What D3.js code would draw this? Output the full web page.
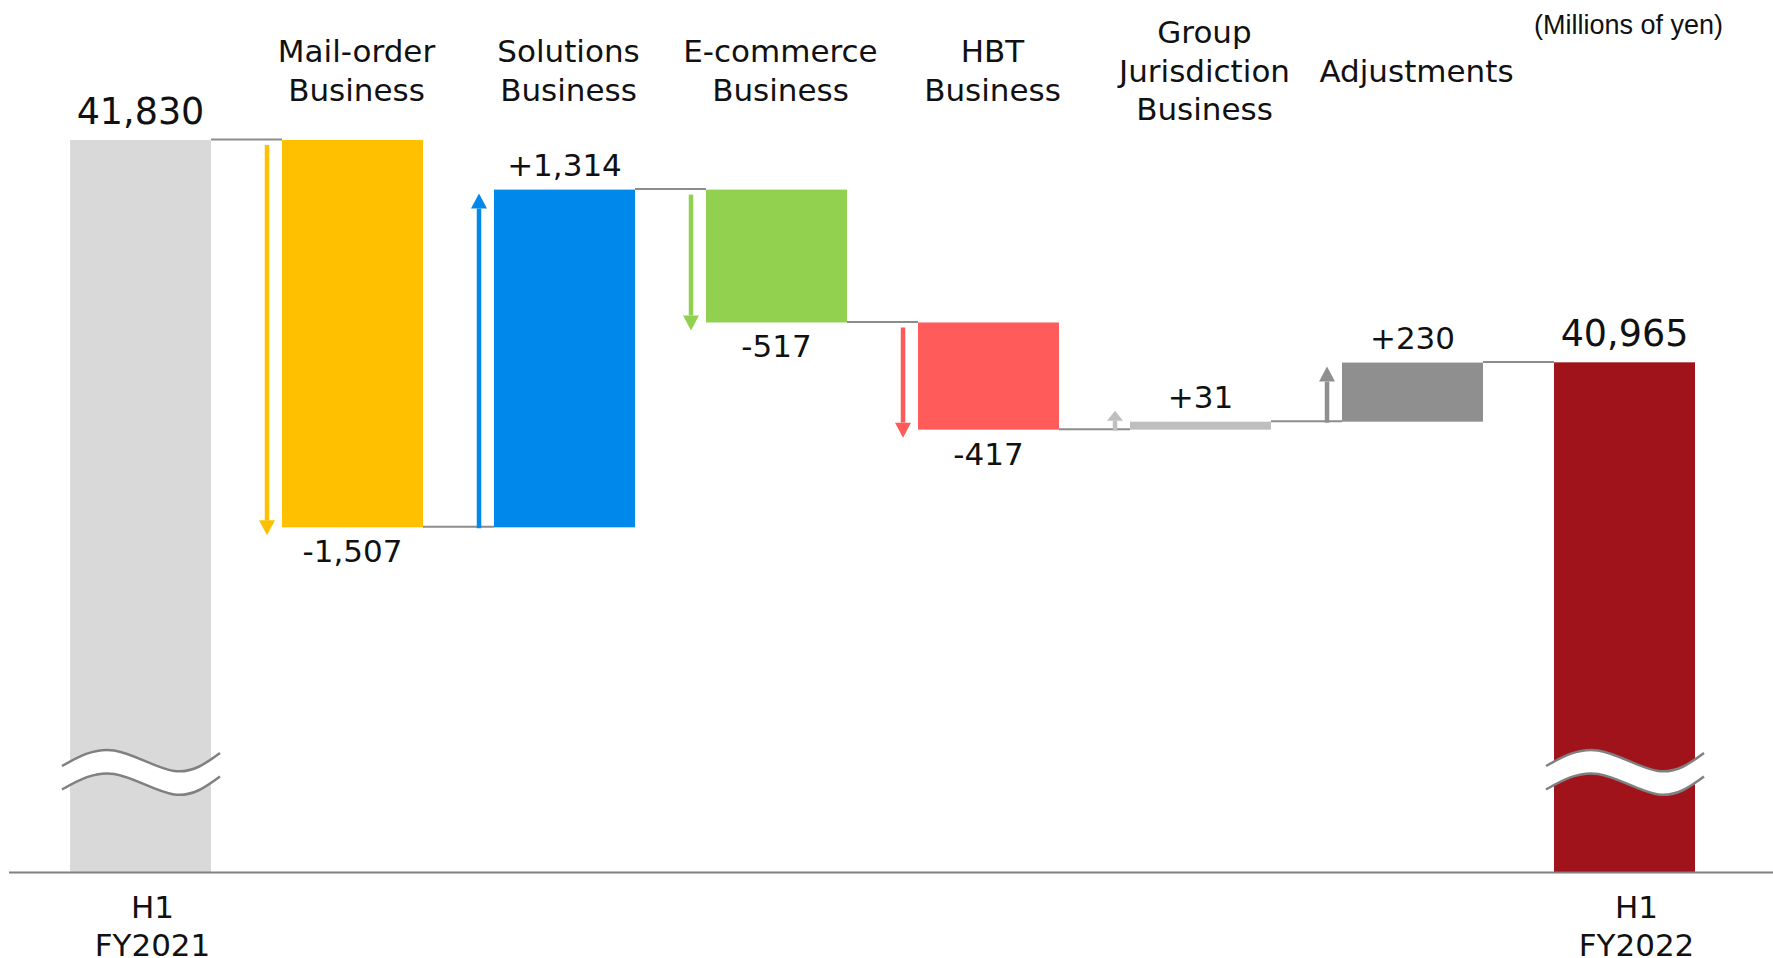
<!DOCTYPE html>
<html>
<head>
<meta charset="utf-8">
<script src="https://cdn.jsdelivr.net/npm/d3@7"></script>
<style>
	body { margin: 0; background: #fff; }
	svg { display: block; }
</style>
</head>
<body>
<svg id="chart" width="1773" height="958"></svg>
<script>
// values in millions of yen
var categories = ["H1 FY2021", "Mail-order", "Solutions", "E-commerce", "HBT", "Group Jurisdiction", "Adjustments", "H1 FY2022"];
var topLabels = [[], ["Mail-order", "Business"], ["Solutions", "Business"], ["E-commerce", "Business"], ["HBT", "Business"], ["Group", "Jurisdiction", "Business"], ["Adjustments"], []];
var bottomLabels = [["H1", "FY2021"], [], [], [], [], [], [], ["H1", "FY2022"]];
var values = [41830, -1507, 1314, -517, -417, 31, 230, 40965];
var isTotal = [true, false, false, false, false, false, false, true];
var barColors = ["#D9D9D9", "#FFC000", "#0089EA", "#92D050", "#FF5B5B", "#BFBFBF", "#8F8F8F", "#A0131A"];
var unitLabel = "(Millions of yen)";

var svg = d3.select("#chart");
var W = 1773, H = 958;
var axisY = 872.5;
var breakBase = 38980;   // value sitting on the axis (axis is broken)

var x = d3.scaleBand()
	.domain(categories)
	.range([70, 1695])
	.paddingInner(0.335)
	.paddingOuter(0);

var y = d3.scaleLinear()
	.domain([breakBase, 41830])
	.range([axisY, 140]);

// running totals for the waterfall
var bars = [];
var running = 0;
for (var i = 0; i < values.length; i++) {
	var b = { cat: categories[i], v: values[i], color: barColors[i], total: isTotal[i], i: i };
	if (isTotal[i]) {
		b.from = breakBase;
		b.to = values[i];
	} else {
		b.from = running;
		b.to = running + values[i];
	}
	running = b.to;
	b.lo = Math.min(b.from, b.to);
	b.hi = Math.max(b.from, b.to);
	bars.push(b);
}

var fmt = d3.format(",");
function labelText(d) {
	if (d.total) return fmt(d.v);
	return (d.v > 0 ? "+" : "-") + fmt(Math.abs(d.v));
}

// connectors
var gConn = svg.append("g");
for (var i = 0; i < bars.length - 1; i++) {
	var lvl = bars[i].total ? bars[i].to : bars[i].to;
	gConn.append("line")
		.attr("x1", x(bars[i].cat) + x.bandwidth())
		.attr("x2", x(bars[i + 1].cat))
		.attr("y1", y(lvl) - 0.5)
		.attr("y2", y(lvl) - 0.5)
		.style("stroke", "#8c8c8c")
		.style("stroke-width", 2);
}

// bars
svg.append("g")
	.selectAll(".bar")
	.data(bars)
	.enter()
	.append("rect")
	.attr("class", "bar")
	.attr("x", function(d) { return x(d.cat); })
	.attr("width", x.bandwidth())
	.attr("y", function(d) { return y(d.hi); })
	.attr("height", function(d) { return Math.max(1, y(d.lo) - y(d.hi)); })
	.style("fill", function(d) { return d.color; });

// arrows left of each change bar
var gArr = svg.append("g");
bars.filter(function(d) { return !d.total; }).forEach(function(d) {
	var ax = x(d.cat) - 15;
	var start, tip;
	if (d.v < 0) {
		start = y(d.from) + 5;
		tip = y(d.to) + 8;
	} else {
		start = y(d.from) + 1;
		tip = Math.min(y(d.to) + 4, start - 20);
	}
	var len = Math.abs(start - tip);
	var hh = Math.min(15, len * 0.5);
	var dir = d.v < 0 ? 1 : -1;
	var headBase = tip - dir * hh;
	gArr.append("line")
		.attr("x1", ax).attr("x2", ax)
		.attr("y1", start).attr("y2", headBase)
		.style("stroke", d.color)
		.style("stroke-width", 4.5);
	gArr.append("path")
		.attr("d", "M" + (ax - 8) + "," + headBase + "L" + (ax + 8) + "," + headBase + "L" + ax + "," + tip + "Z")
		.style("fill", d.color);
});

// broken-axis marks on the two totals
var wave = d3.line().curve(d3.curveNatural);
bars.filter(function(d) { return d.total; }).forEach(function(d) {
	var x0 = x(d.cat) - 8, w = x.bandwidth() + 17;
	var top = [[x0, 766], [x0 + 0.33 * w, 750.5], [x0 + 0.71 * w, 771], [x0 + w, 753]];
	var bot = top.map(function(p) { return [p[0], p[1] + 23.5]; });
	svg.append("path")
		.attr("d", wave(top) + "L" + wave(bot.slice().reverse()).slice(1) + "Z")
		.style("fill", "#fff");
	[top, bot].forEach(function(pts) {
		svg.append("path")
			.attr("d", wave(pts))
			.style("fill", "none")
			.style("stroke", "#808080")
			.style("stroke-width", 2.5);
	});
});

// base axis
svg.append("line")
	.attr("x1", 9).attr("x2", W)
	.attr("y1", axisY).attr("y2", axisY)
	.style("stroke", "#808080")
	.style("stroke-width", 2);

// value labels
svg.append("g")
	.selectAll(".val")
	.data(bars)
	.enter()
	.append("text")
	.attr("class", "val")
	.attr("x", function(d) { return x(d.cat) + x.bandwidth() / 2; })
	.attr("y", function(d) {
		if (d.total) return y(d.hi) - 16;
		if (d.v > 0) return y(d.hi) - 13.5;
		return y(d.lo) + 35;
	})
	.attr("text-anchor", "middle")
	.style("font-family", "'DejaVu Sans', Verdana, sans-serif")
	.style("font-size", function(d) { return d.total ? "36.5px" : "31px"; })
	.style("fill", "#111")
	.text(labelText);

// category labels on top
var lineH = 38.4;
topLabels.forEach(function(lines, i) {
	if (!lines.length) return;
	var t = svg.append("text")
		.attr("text-anchor", "middle")
		.style("font-family", "'DejaVu Sans', Verdana, sans-serif")
		.style("font-size", "31px")
		.style("fill", "#111");
	lines.forEach(function(s, k) {
		t.append("tspan")
			.attr("x", x(categories[i]) + x.bandwidth() / 2 + 4)
			.attr("y", 81.5 + (k - (lines.length - 1) / 2) * lineH)
			.text(s);
	});
});

// period labels under the axis
bottomLabels.forEach(function(lines, i) {
	if (!lines.length) return;
	var t = svg.append("text")
		.attr("text-anchor", "middle")
		.style("font-family", "'DejaVu Sans', Verdana, sans-serif")
		.style("font-size", "31px")
		.style("fill", "#111");
	lines.forEach(function(s, k) {
		t.append("tspan")
			.attr("x", x(categories[i]) + x.bandwidth() / 2 + 12)
			.attr("y", 917.5 + k * lineH)
			.text(s);
	});
});

// unit
svg.append("text")
	.attr("x", 1723)
	.attr("y", 34)
	.attr("text-anchor", "end")
	.style("font-family", "'Liberation Sans', Arial, sans-serif")
	.style("font-size", "27px")
	.style("fill", "#111")
	.text(unitLabel);
</script>
</body>
</html>
